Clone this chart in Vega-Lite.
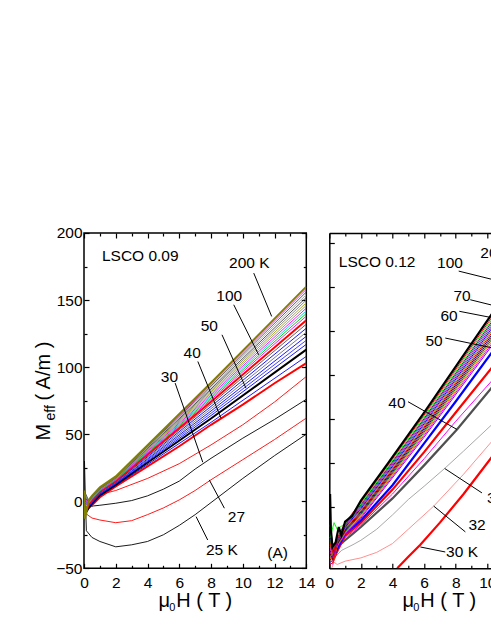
{
"$schema": "https://vega.github.io/schema/vega-lite/v6.json",
"background": "white",
"padding": {"left": 32, "top": 225, "right": 0, "bottom": 0},
"bounds": "flush",
"spacing": 22.3,
"resolve": {"scale": {"color": "independent"}},
"config": {
  "font": "Liberation Sans",
  "view": {"stroke": null},
  "axis": {"grid": false, "domain": false, "tickColor": "black", "tickWidth": 1.2, "labelFont": "Liberation Sans", "labelFontSize": 15.5, "labelColor": "black", "titleFont": "Liberation Sans", "titleFontSize": 20, "titleFontWeight": "normal", "titleColor": "black", "labelFlush": false, "labelOverlap": false, "domainColor": "black", "domainWidth": 1.5}
},
"datasets": {
  "dummy": [{"x": 0, "y": 0}],
  "left": [
    {"s":"a25","x":0.03,"y":30},{"s":"a25","x":0.08,"y":5},{"s":"a25","x":0.15,"y":-22},{"s":"a25","x":0.5,"y":-27},{"s":"a25","x":1,"y":-30},{"s":"a25","x":2,"y":-34},{"s":"a25","x":3,"y":-32.5},{"s":"a25","x":4,"y":-30},{"s":"a25","x":5,"y":-25},{"s":"a25","x":6,"y":-18},{"s":"a25","x":7,"y":-10},{"s":"a25","x":8,"y":-1},{"s":"a25","x":10,"y":17},{"s":"a25","x":12,"y":34},{"s":"a25","x":14,"y":50},
    {"s":"a27","x":0.05,"y":-5},{"s":"a27","x":0.2,"y":-10},{"s":"a27","x":0.5,"y":-12.5},{"s":"a27","x":1,"y":-14},{"s":"a27","x":2,"y":-16},{"s":"a27","x":3,"y":-14.5},{"s":"a27","x":4,"y":-10},{"s":"a27","x":5,"y":-5},{"s":"a27","x":6,"y":1},{"s":"a27","x":7,"y":8},{"s":"a27","x":8,"y":16},{"s":"a27","x":10,"y":31},{"s":"a27","x":12,"y":46},{"s":"a27","x":14,"y":62},
    {"s":"a30","x":0.2,"y":-1},{"s":"a30","x":0.4,"y":-4},{"s":"a30","x":0.6,"y":-3.5},{"s":"a30","x":1,"y":-3},{"s":"a30","x":2,"y":-1.5},{"s":"a30","x":3,"y":0.5},{"s":"a30","x":4,"y":4},{"s":"a30","x":5,"y":9},{"s":"a30","x":6,"y":15},{"s":"a30","x":7,"y":24},{"s":"a30","x":8,"y":32},{"s":"a30","x":10,"y":47},{"s":"a30","x":12,"y":61},{"s":"a30","x":14,"y":76},
    {"s":"a35","x":0.05,"y":-2},{"s":"a35","x":0.3,"y":-3},{"s":"a35","x":0.5,"y":0},{"s":"a35","x":1,"y":5},{"s":"a35","x":2,"y":8},{"s":"a35","x":4,"y":17},{"s":"a35","x":6,"y":28},{"s":"a35","x":8,"y":42},{"s":"a35","x":10,"y":57},{"s":"a35","x":12,"y":74},{"s":"a35","x":14,"y":93},
    {"s":"a40","x":0.05,"y":-6},{"s":"a40","x":0.3,"y":-5},{"s":"a40","x":0.5,"y":-3},{"s":"a40","x":1,"y":3},{"s":"a40","x":2,"y":11},{"s":"a40","x":4,"y":26},{"s":"a40","x":6,"y":41},{"s":"a40","x":8,"y":57},{"s":"a40","x":10,"y":72},{"s":"a40","x":12,"y":88},{"s":"a40","x":14,"y":103},
    {"s":"a108","x":0.05,"y":-8},{"s":"a108","x":0.3,"y":-5.4},{"s":"a108","x":0.5,"y":-2.4},{"s":"a108","x":1,"y":3.9},{"s":"a108","x":2,"y":11.7},{"s":"a108","x":8,"y":58.8},{"s":"a108","x":14,"y":108},
    {"s":"a50","x":0.05,"y":-10},{"s":"a50","x":0.3,"y":-4.8},{"s":"a50","x":0.5,"y":-1.8},{"s":"a50","x":1,"y":4.5},{"s":"a50","x":2,"y":12.3},{"s":"a50","x":8,"y":61.7},{"s":"a50","x":14,"y":113},
    {"s":"a117","x":0.05,"y":-6},{"s":"a117","x":0.3,"y":-4.3},{"s":"a117","x":0.5,"y":-1.3},{"s":"a117","x":1,"y":5.0},{"s":"a117","x":2,"y":12.8},{"s":"a117","x":8,"y":63.9},{"s":"a117","x":14,"y":117},
    {"s":"a120","x":0.05,"y":-4},{"s":"a120","x":0.3,"y":-3.9},{"s":"a120","x":0.5,"y":-0.9},{"s":"a120","x":1,"y":5.4},{"s":"a120","x":2,"y":13.2},{"s":"a120","x":8,"y":65.6},{"s":"a120","x":14,"y":120},
    {"s":"a123","x":0.05,"y":-9},{"s":"a123","x":0.3,"y":-3.5},{"s":"a123","x":0.5,"y":-0.5},{"s":"a123","x":1,"y":5.8},{"s":"a123","x":2,"y":13.6},{"s":"a123","x":8,"y":67.3},{"s":"a123","x":14,"y":123},
    {"s":"a126","x":0.05,"y":-2},{"s":"a126","x":0.3,"y":-3.2},{"s":"a126","x":0.5,"y":-0.2},{"s":"a126","x":1,"y":6.2},{"s":"a126","x":2,"y":14.0},{"s":"a126","x":8,"y":69.0},{"s":"a126","x":14,"y":126},
    {"s":"a129","x":0.05,"y":0},{"s":"a129","x":0.3,"y":-2.8},{"s":"a129","x":0.5,"y":0.2},{"s":"a129","x":1,"y":6.6},{"s":"a129","x":2,"y":14.4},{"s":"a129","x":8,"y":70.7},{"s":"a129","x":14,"y":129},
    {"s":"a132","x":0.05,"y":-5},{"s":"a132","x":0.3,"y":-2.4},{"s":"a132","x":0.5,"y":0.6},{"s":"a132","x":1,"y":7.0},{"s":"a132","x":2,"y":14.8},{"s":"a132","x":8,"y":72.4},{"s":"a132","x":14,"y":132},
    {"s":"a100","x":0.05,"y":-11},{"s":"a100","x":0.3,"y":-2.1},{"s":"a100","x":0.5,"y":0.9},{"s":"a100","x":1,"y":7.3},{"s":"a100","x":2,"y":15.2},{"s":"a100","x":8,"y":74.1},{"s":"a100","x":14,"y":135},
    {"s":"a138","x":0.05,"y":3},{"s":"a138","x":0.3,"y":-1.7},{"s":"a138","x":0.5,"y":1.3},{"s":"a138","x":1,"y":7.7},{"s":"a138","x":2,"y":15.6},{"s":"a138","x":8,"y":75.8},{"s":"a138","x":14,"y":138},
    {"s":"a140","x":0.05,"y":5},{"s":"a140","x":0.3,"y":-1.5},{"s":"a140","x":0.5,"y":1.5},{"s":"a140","x":1,"y":8.0},{"s":"a140","x":2,"y":15.9},{"s":"a140","x":8,"y":77.0},{"s":"a140","x":14,"y":140},
    {"s":"a142","x":0.05,"y":-3},{"s":"a142","x":0.3,"y":-1.2},{"s":"a142","x":0.5,"y":1.8},{"s":"a142","x":1,"y":8.2},{"s":"a142","x":2,"y":16.1},{"s":"a142","x":8,"y":78.1},{"s":"a142","x":14,"y":142},
    {"s":"a144","x":0.05,"y":1},{"s":"a144","x":0.3,"y":-1.0},{"s":"a144","x":0.5,"y":2.0},{"s":"a144","x":1,"y":8.5},{"s":"a144","x":2,"y":16.4},{"s":"a144","x":8,"y":79.2},{"s":"a144","x":14,"y":144},
    {"s":"a146","x":0.05,"y":6},{"s":"a146","x":0.3,"y":-0.7},{"s":"a146","x":0.5,"y":2.3},{"s":"a146","x":1,"y":8.8},{"s":"a146","x":2,"y":16.7},{"s":"a146","x":8,"y":80.4},{"s":"a146","x":14,"y":146},
    {"s":"a148","x":0.05,"y":-7},{"s":"a148","x":0.3,"y":-0.5},{"s":"a148","x":0.5,"y":2.5},{"s":"a148","x":1,"y":9.0},{"s":"a148","x":2,"y":16.9},{"s":"a148","x":8,"y":81.5},{"s":"a148","x":14,"y":148},
    {"s":"a150","x":0.05,"y":4},{"s":"a150","x":0.3,"y":-0.2},{"s":"a150","x":0.5,"y":2.8},{"s":"a150","x":1,"y":9.3},{"s":"a150","x":2,"y":17.2},{"s":"a150","x":8,"y":82.6},{"s":"a150","x":14,"y":150},
    {"s":"a152","x":0.05,"y":2},{"s":"a152","x":0.3,"y":0.0},{"s":"a152","x":0.5,"y":3.0},{"s":"a152","x":1,"y":9.5},{"s":"a152","x":2,"y":17.4},{"s":"a152","x":8,"y":83.7},{"s":"a152","x":14,"y":152},
    {"s":"a154","x":0.05,"y":-1},{"s":"a154","x":0.3,"y":0.3},{"s":"a154","x":0.5,"y":3.3},{"s":"a154","x":1,"y":9.8},{"s":"a154","x":2,"y":17.7},{"s":"a154","x":8,"y":84.9},{"s":"a154","x":14,"y":154},
    {"s":"a156","x":0.05,"y":7},{"s":"a156","x":0.3,"y":0.5},{"s":"a156","x":0.5,"y":3.5},{"s":"a156","x":1,"y":10.0},{"s":"a156","x":2,"y":18.0},{"s":"a156","x":8,"y":86.0},{"s":"a156","x":14,"y":156},
    {"s":"a158","x":0.05,"y":-4},{"s":"a158","x":0.3,"y":0.8},{"s":"a158","x":0.5,"y":3.8},{"s":"a158","x":1,"y":10.3},{"s":"a158","x":2,"y":18.2},{"s":"a158","x":8,"y":87.1},{"s":"a158","x":14,"y":158},
    {"s":"a200","x":0.03,"y":8},{"s":"a200","x":0.06,"y":-13},{"s":"a200","x":0.3,"y":1.0},{"s":"a200","x":0.5,"y":4.0},{"s":"a200","x":1,"y":10.5},{"s":"a200","x":2,"y":18.5},{"s":"a200","x":8,"y":88.3},{"s":"a200","x":14,"y":160}
  ],
  "right": [
    {"s":"b30","x":4.3,"y":-7.7},{"s":"b30","x":5,"y":-2.5},{"s":"b30","x":5.76,"y":3},{"s":"b30","x":7,"y":13},{"s":"b30","x":8.5,"y":26},{"s":"b30","x":10.36,"y":43.5},
    {"s":"b32","x":0.15,"y":-7.7},{"s":"b32","x":0.3,"y":-5},{"s":"b32","x":0.5,"y":-6},{"s":"b32","x":1,"y":-4.5},{"s":"b32","x":2,"y":-3},{"s":"b32","x":3,"y":-0.5},{"s":"b32","x":4,"y":3.5},{"s":"b32","x":5,"y":10},{"s":"b32","x":6.61,"y":20.5},{"s":"b32","x":8.5,"y":35},{"s":"b32","x":10.36,"y":50.5},
    {"s":"b35","x":0.3,"y":-3},{"s":"b35","x":0.8,"y":0.5},{"s":"b35","x":1.5,"y":3},{"s":"b35","x":2,"y":5},{"s":"b35","x":3,"y":10},{"s":"b35","x":4,"y":16.5},{"s":"b35","x":5,"y":23.5},{"s":"b35","x":6,"y":29.5},{"s":"b35","x":7.3,"y":37.6},{"s":"b35","x":8.5,"y":45.5},{"s":"b35","x":10.36,"y":58},
    {"s":"b40","x":0.2,"y":-4},{"s":"b40","x":0.5,"y":2},{"s":"b40","x":1,"y":5},{"s":"b40","x":1.5,"y":8},{"s":"b40","x":2,"y":11},{"s":"b40","x":4,"y":24},{"s":"b40","x":6,"y":39},{"s":"b40","x":8.08,"y":55.3},{"s":"b40","x":10.36,"y":75},
    {"s":"b78","x":0.2,"y":-6},{"s":"b78","x":0.5,"y":1},{"s":"b78","x":1,"y":6},{"s":"b78","x":2,"y":12},{"s":"b78","x":4,"y":26},{"s":"b78","x":6,"y":42},{"s":"b78","x":8,"y":59},{"s":"b78","x":10.36,"y":78},
    {"s":"b84","x":0.2,"y":-5},{"s":"b84","x":0.5,"y":0},{"s":"b84","x":1,"y":7},{"s":"b84","x":2,"y":13},{"s":"b84","x":4,"y":28},{"s":"b84","x":6,"y":45},{"s":"b84","x":8,"y":63},{"s":"b84","x":10.36,"y":84},
    {"s":"b91","x":0.2,"y":-3},{"s":"b91","x":0.5,"y":1},{"s":"b91","x":1,"y":8},{"s":"b91","x":2,"y":14},{"s":"b91","x":4,"y":30},{"s":"b91","x":6,"y":49},{"s":"b91","x":8,"y":68},{"s":"b91","x":10.36,"y":91},
    {"s":"b94","x":0.05,"y":-5},{"s":"b94","x":0.25,"y":-4},{"s":"b94","x":0.5,"y":2},{"s":"b94","x":1,"y":7.5},{"s":"b94","x":2,"y":15.0},{"s":"b94","x":6,"y":51.8},{"s":"b94","x":10.36,"y":94},
    {"s":"b95","x":0.05,"y":2},{"s":"b95","x":0.25,"y":-3},{"s":"b95","x":0.5,"y":2.3},{"s":"b95","x":1,"y":7.95},{"s":"b95","x":2,"y":15.6},{"s":"b95","x":6,"y":52.6},{"s":"b95","x":10.36,"y":95},
    {"s":"b96","x":0.05,"y":-3},{"s":"b96","x":0.25,"y":-5},{"s":"b96","x":0.5,"y":2.6},{"s":"b96","x":1,"y":8.35},{"s":"b96","x":2,"y":16.1},{"s":"b96","x":6,"y":53.3},{"s":"b96","x":10.36,"y":96},
    {"s":"b97","x":0.05,"y":5},{"s":"b97","x":0.25,"y":-2},{"s":"b97","x":0.5,"y":2.9},{"s":"b97","x":1,"y":8.8},{"s":"b97","x":2,"y":16.7},{"s":"b97","x":6,"y":54.1},{"s":"b97","x":10.36,"y":97},
    {"s":"b98","x":0.05,"y":-1},{"s":"b98","x":0.25,"y":-4},{"s":"b98","x":0.5,"y":3.2},{"s":"b98","x":1,"y":9.2},{"s":"b98","x":2,"y":17.2},{"s":"b98","x":6,"y":54.9},{"s":"b98","x":10.36,"y":98},
    {"s":"b99","x":0.05,"y":8},{"s":"b99","x":0.25,"y":-1},{"s":"b99","x":0.5,"y":3.5},{"s":"b99","x":1,"y":9.65},{"s":"b99","x":2,"y":17.8},{"s":"b99","x":6,"y":55.7},{"s":"b99","x":10.36,"y":99},
    {"s":"b100","x":0.05,"y":-6},{"s":"b100","x":0.25,"y":-5},{"s":"b100","x":0.5,"y":3.8},{"s":"b100","x":1,"y":10.05},{"s":"b100","x":2,"y":18.3},{"s":"b100","x":6,"y":56.4},{"s":"b100","x":10.36,"y":100},
    {"s":"b101","x":0.05,"y":3},{"s":"b101","x":0.25,"y":-2},{"s":"b101","x":0.5,"y":4.1},{"s":"b101","x":1,"y":10.5},{"s":"b101","x":2,"y":18.9},{"s":"b101","x":6,"y":57.2},{"s":"b101","x":10.36,"y":101},
    {"s":"b102","x":0.05,"y":10},{"s":"b102","x":0.25,"y":0},{"s":"b102","x":0.5,"y":4.4},{"s":"b102","x":1,"y":10.9},{"s":"b102","x":2,"y":19.4},{"s":"b102","x":6,"y":57.9},{"s":"b102","x":10.36,"y":102},
    {"s":"b103","x":0.05,"y":0},{"s":"b103","x":0.25,"y":-3},{"s":"b103","x":0.5,"y":4.7},{"s":"b103","x":1,"y":11.35},{"s":"b103","x":2,"y":20.0},{"s":"b103","x":6,"y":58.7},{"s":"b103","x":10.36,"y":103},
    {"s":"b104","x":0.05,"y":12},{"s":"b104","x":0.25,"y":1},{"s":"b104","x":0.5,"y":5.0},{"s":"b104","x":1,"y":11.75},{"s":"b104","x":2,"y":20.5},{"s":"b104","x":6,"y":59.5},{"s":"b104","x":10.36,"y":104},
    {"s":"b105","x":0.05,"y":-4},{"s":"b105","x":0.25,"y":-2},{"s":"b105","x":0.5,"y":5.3},{"s":"b105","x":1,"y":12.2},{"s":"b105","x":2,"y":21.1},{"s":"b105","x":6,"y":60.2},{"s":"b105","x":10.36,"y":105},
    {"s":"b106","x":0.05,"y":6},{"s":"b106","x":0.3,"y":13},{"s":"b106","x":0.5,"y":10},{"s":"b106","x":1,"y":12.6},{"s":"b106","x":2,"y":21.6},{"s":"b106","x":6,"y":61.0},{"s":"b106","x":10.36,"y":106},
    {"s":"b107","x":0.05,"y":4},{"s":"b107","x":0.25,"y":-1},{"s":"b107","x":0.5,"y":5.9},{"s":"b107","x":1,"y":13.05},{"s":"b107","x":2,"y":22.2},{"s":"b107","x":6,"y":61.8},{"s":"b107","x":10.36,"y":107},
    {"s":"b108","x":0.05,"y":26},{"s":"b108","x":0.1,"y":10},{"s":"b108","x":0.2,"y":2},{"s":"b108","x":0.4,"y":4},{"s":"b108","x":0.6,"y":11},{"s":"b108","x":0.76,"y":7.3},{"s":"b108","x":1,"y":13.5},{"s":"b108","x":1.44,"y":16},{"s":"b108","x":2,"y":23},{"s":"b108","x":3.72,"y":40},{"s":"b108","x":6,"y":62.9},{"s":"b108","x":10.36,"y":108.5}
  ],
  "leftLeaders": [
    {"x":10.69,"y":170.1,"x2":11.82,"y2":137.8},
    {"x":9.43,"y":146.5,"x2":11.0,"y2":109.2},
    {"x":8.69,"y":124.1,"x2":10.2,"y2":84.3},
    {"x":7.17,"y":104.2,"x2":8.63,"y2":61.9},
    {"x":5.74,"y":88.1,"x2":7.48,"y2":29.1},
    {"x":7.89,"y":15.9,"x2":8.84,"y2":-5.2},
    {"x":7.06,"y":-11.5,"x2":7.79,"y2":-28.9}
  ],
  "rightLeaders": [
    {"x":8.19,"y":127.2,"x2":11.56,"y2":121.2},
    {"x":8.92,"y":114.2,"x2":11.56,"y2":109.5},
    {"x":8.23,"y":108.95,"x2":10.19,"y2":106.2},
    {"x":7.34,"y":96.8,"x2":11.56,"y2":90.5},
    {"x":4.98,"y":67.9,"x2":8.08,"y2":55.3},
    {"x":7.3,"y":37.6,"x2":9.66,"y2":26.5},
    {"x":6.61,"y":20.5,"x2":8.61,"y2":8.8},
    {"x":5.76,"y":1.95,"x2":7.34,"y2":-0.32}
  ],
  "leftLabels": [
    {"t":"200 K","x":10.41,"y":177.6},
    {"t":"100","x":9.15,"y":153.2},
    {"t":"50","x":7.89,"y":130.8},
    {"t":"40","x":6.81,"y":110.4},
    {"t":"30","x":5.38,"y":93},
    {"t":"27","x":9.6,"y":-11.5},
    {"t":"25 K","x":8.68,"y":-36.3},
    {"t":"(A)","x":12.19,"y":-38.8}
  ],
  "leftTitle": [{"t":"LSCO 0.09","x":1.13,"y":182.5}],
  "rightLabels": [
    {"t":"100","x":7.64,"y":130.9},
    {"t":"70","x":8.4,"y":115.9},
    {"t":"60","x":7.58,"y":106.8},
    {"t":"50","x":6.63,"y":95.5},
    {"t":"40","x":4.28,"y":67.4},
    {"t":"32","x":9.35,"y":11.8},
    {"t":"30 K","x":8.4,"y":-0.46}
  ],
  "rightLeft": [
    {"t":"LSCO 0.12","x":0.6,"y":131.5},
    {"t":"200 K","x":9.56,"y":135.5},
    {"t":"35","x":9.98,"y":24.1}
  ]
},
"hconcat": [
  {
    "width": 222.3, "height": 335.3,
    "view": {"stroke": "black", "strokeWidth": 1.5},
    "resolve": {"axis": {"x": "independent", "y": "independent"}},
    "layer": [
      {
        "data": {"name": "left"},
        "mark": {"type": "line", "clip": true},
        "encoding": {
          "x": {"field": "x", "type": "quantitative", "scale": {"domain": [0, 14], "nice": false, "zero": false},
                "axis": {"orient": "bottom", "values": [0,2,4,6,8,10,12,14], "tickSize": -5, "labelPadding": 12, "title": "μ", "titleX": 74, "titleY": 38.4, "titleAlign": "left", "titleBaseline": "alphabetic"}},
          "y": {"field": "y", "type": "quantitative", "scale": {"domain": [-50, 200], "nice": false, "zero": false},
                "axis": {"orient": "left", "values": [-50,0,50,100,150,200], "tickSize": -5, "labelPadding": 7, "title": "M", "titleAngle": 270, "titleX": -34.7, "titleY": 207, "titleAlign": "left", "titleBaseline": "alphabetic"}},
          "color": {"field": "s", "type": "nominal", "legend": null,
                    "scale": {"domain": ["a25","a27","a30","a35","a40","a108","a50","a117","a120","a123","a126","a129","a132","a100","a138","a140","a142","a144","a146","a148","a150","a152","a154","a156","a158","a200"],
                              "range": ["#000000","#ff0000","#000000","#ff0000","#ff0000","#0000ff","#000000","#0000ff","#3030ff","#0000ff","#707070","#0000ff","#505050","#ff0000","#ff00ff","#00c000","#00d0d0","#ff00ff","#909090","#a0a000","#808080","#404040","#a0a0a0","#505050","#ff00ff","#808000"]}},
          "strokeWidth": {"condition": {"test": "indexof(['a40','a50','a100','a200'], datum.s) >= 0", "value": 2}, "value": 0.9}
        }
      },
      {
        "data": {"name": "dummy"},
        "mark": {"type": "point", "opacity": 0},
        "encoding": {
          "x": {"field": "x", "type": "quantitative", "scale": {"domain": [0, 14], "nice": false, "zero": false},
                "axis": {"orient": "bottom", "values": [1,3,5,7,9,11,13], "tickSize": -3, "labels": false, "title": "0", "titleFontSize": 11, "titleX": 84.8, "titleY": 42.7, "titleAlign": "left", "titleBaseline": "alphabetic"}},
          "y": {"field": "y", "type": "quantitative", "scale": {"domain": [-50, 200], "nice": false, "zero": false},
                "axis": {"orient": "left", "values": [-25,25,75,125,175], "tickSize": -3, "labels": false, "title": "eff", "titleFontSize": 14, "titleAngle": 270, "titleX": -29.7, "titleY": 187, "titleAlign": "left", "titleBaseline": "alphabetic"}}
        }
      },
      {
        "data": {"name": "dummy"},
        "mark": {"type": "point", "opacity": 0},
        "encoding": {
          "x": {"field": "x", "type": "quantitative", "scale": {"domain": [0, 14], "nice": false, "zero": false},
                "axis": {"orient": "top", "values": [0,2,4,6,8,10,12,14], "tickSize": -5, "labels": false, "title": null}},
          "y": {"field": "y", "type": "quantitative", "scale": {"domain": [-50, 200], "nice": false, "zero": false},
                "axis": {"orient": "right", "values": [-50,0,50,100,150,200], "tickSize": -5, "labels": false, "title": null}}
        }
      },
      {
        "data": {"name": "dummy"},
        "mark": {"type": "point", "opacity": 0},
        "encoding": {
          "x": {"field": "x", "type": "quantitative", "scale": {"domain": [0, 14], "nice": false, "zero": false},
                "axis": {"orient": "top", "values": [1,3,5,7,9,11,13], "tickSize": -3, "labels": false, "title": null}},
          "y": {"field": "y", "type": "quantitative", "scale": {"domain": [-50, 200], "nice": false, "zero": false},
                "axis": {"orient": "right", "values": [-25,25,75,125,175], "tickSize": -3, "labels": false, "title": null}}
        }
      },
      {
        "data": {"name": "dummy"},
        "mark": {"type": "point", "opacity": 0},
        "encoding": {
          "x": {"field": "x", "type": "quantitative", "scale": {"domain": [0, 14], "nice": false, "zero": false},
                "axis": {"orient": "bottom", "ticks": false, "labels": false, "title": "H ( T )", "titleX": 91.8, "titleY": 38.4, "titleAlign": "left", "titleBaseline": "alphabetic"}},
          "y": {"field": "y", "type": "quantitative", "scale": {"domain": [-50, 200], "nice": false, "zero": false},
                "axis": {"orient": "left", "ticks": false, "labels": false, "title": "( A/m )", "titleAngle": 270, "titleX": -34.7, "titleY": 167, "titleAlign": "left", "titleBaseline": "alphabetic"}}
        }
      },
      {
        "data": {"name": "leftLeaders"},
        "mark": {"type": "rule", "color": "black", "strokeWidth": 1, "clip": true},
        "encoding": {
          "x": {"field": "x", "type": "quantitative", "axis": null, "scale": {"domain": [0, 14], "nice": false, "zero": false}},
          "y": {"field": "y", "type": "quantitative", "axis": null, "scale": {"domain": [-50, 200], "nice": false, "zero": false}},
          "x2": {"field": "x2"}, "y2": {"field": "y2"}
        }
      },
      {
        "data": {"name": "leftLabels"},
        "mark": {"type": "text", "font": "Liberation Sans", "fontSize": 15.5, "color": "black", "align": "center", "baseline": "middle"},
        "encoding": {
          "x": {"field": "x", "type": "quantitative", "axis": null, "scale": {"domain": [0, 14], "nice": false, "zero": false}},
          "y": {"field": "y", "type": "quantitative", "axis": null, "scale": {"domain": [-50, 200], "nice": false, "zero": false}},
          "text": {"field": "t", "type": "nominal"}
        }
      },
      {
        "data": {"name": "leftTitle"},
        "mark": {"type": "text", "font": "Liberation Sans", "fontSize": 15.5, "color": "black", "align": "left", "baseline": "middle"},
        "encoding": {
          "x": {"field": "x", "type": "quantitative", "axis": null, "scale": {"domain": [0, 14], "nice": false, "zero": false}},
          "y": {"field": "y", "type": "quantitative", "axis": null, "scale": {"domain": [-50, 200], "nice": false, "zero": false}},
          "text": {"field": "t", "type": "nominal"}
        }
      }
    ]
  },
  {
    "width": 163.7, "height": 335.3,
    "resolve": {"axis": {"x": "independent", "y": "independent"}},
    "layer": [
      {
        "data": {"name": "right"},
        "mark": {"type": "line", "clip": true},
        "encoding": {
          "x": {"field": "x", "type": "quantitative", "scale": {"domain": [0, 10.36], "nice": false, "zero": false},
                "axis": {"orient": "bottom", "domain": true, "values": [0,2,4,6,8,10], "tickSize": -5, "labelPadding": 12, "title": "μ", "titleX": 72.7, "titleY": 38.4, "titleAlign": "left", "titleBaseline": "alphabetic"}},
          "y": {"field": "y", "type": "quantitative", "scale": {"domain": [-7.73, 144.5], "nice": false, "zero": false},
                "axis": {"orient": "left", "domain": true, "values": [0,20,40,60,80,100,120,140], "tickSize": -5, "labels": false, "title": null}},
          "color": {"field": "s", "type": "nominal", "legend": null,
                    "scale": {"domain": ["b30","b32","b35","b40","b78","b84","b91","b94","b95","b96","b97","b98","b99","b100","b101","b102","b103","b104","b105","b106","b107","b108"],
                              "range": ["#ff0000","#ff9090","#a8a8a8","#505050","#ff00ff","#ff0000","#0000ff","#8000ff","#ff00ff","#ff8000","#008000","#800000","#000080","#ff0000","#808000","#0000ff","#c000c0","#008080","#800080","#00ff00","#ff0000","#000000"]}},
          "strokeWidth": {"condition": {"test": "indexof(['b30','b40','b84','b91','b108'], datum.s) >= 0", "value": 2.2}, "value": 1}
        }
      },
      {
        "data": {"name": "dummy"},
        "mark": {"type": "point", "opacity": 0},
        "encoding": {
          "x": {"field": "x", "type": "quantitative", "scale": {"domain": [0, 10.36], "nice": false, "zero": false},
                "axis": {"orient": "bottom", "values": [1,3,5,7,9], "tickSize": -3, "labels": false, "title": "0", "titleFontSize": 11, "titleX": 83.5, "titleY": 42.7, "titleAlign": "left", "titleBaseline": "alphabetic"}},
          "y": {"field": "y", "type": "quantitative", "axis": null, "scale": {"domain": [-7.73, 144.5], "nice": false, "zero": false}}
        }
      },
      {
        "data": {"name": "dummy"},
        "mark": {"type": "point", "opacity": 0},
        "encoding": {
          "x": {"field": "x", "type": "quantitative", "scale": {"domain": [0, 10.36], "nice": false, "zero": false},
                "axis": {"orient": "top", "domain": true, "values": [0,2,4,6,8,10], "tickSize": -5, "labels": false, "title": null}},
          "y": {"field": "y", "type": "quantitative", "axis": null, "scale": {"domain": [-7.73, 144.5], "nice": false, "zero": false}}
        }
      },
      {
        "data": {"name": "dummy"},
        "mark": {"type": "point", "opacity": 0},
        "encoding": {
          "x": {"field": "x", "type": "quantitative", "scale": {"domain": [0, 10.36], "nice": false, "zero": false},
                "axis": {"orient": "top", "values": [1,3,5,7,9], "tickSize": -3, "labels": false, "title": null}},
          "y": {"field": "y", "type": "quantitative", "axis": null, "scale": {"domain": [-7.73, 144.5], "nice": false, "zero": false}}
        }
      },
      {
        "data": {"name": "dummy"},
        "mark": {"type": "point", "opacity": 0},
        "encoding": {
          "x": {"field": "x", "type": "quantitative", "scale": {"domain": [0, 10.36], "nice": false, "zero": false},
                "axis": {"orient": "bottom", "ticks": false, "labels": false, "title": "H ( T )", "titleX": 90.5, "titleY": 38.4, "titleAlign": "left", "titleBaseline": "alphabetic"}},
          "y": {"field": "y", "type": "quantitative", "axis": null, "scale": {"domain": [-7.73, 144.5], "nice": false, "zero": false}}
        }
      },
      {
        "data": {"name": "rightLeaders"},
        "mark": {"type": "rule", "color": "black", "strokeWidth": 1, "clip": true},
        "encoding": {
          "x": {"field": "x", "type": "quantitative", "axis": null, "scale": {"domain": [0, 10.36], "nice": false, "zero": false}},
          "y": {"field": "y", "type": "quantitative", "axis": null, "scale": {"domain": [-7.73, 144.5], "nice": false, "zero": false}},
          "x2": {"field": "x2"}, "y2": {"field": "y2"}
        }
      },
      {
        "data": {"name": "rightLabels"},
        "mark": {"type": "text", "font": "Liberation Sans", "fontSize": 15.5, "color": "black", "align": "center", "baseline": "middle", "clip": true},
        "encoding": {
          "x": {"field": "x", "type": "quantitative", "axis": null, "scale": {"domain": [0, 10.36], "nice": false, "zero": false}},
          "y": {"field": "y", "type": "quantitative", "axis": null, "scale": {"domain": [-7.73, 144.5], "nice": false, "zero": false}},
          "text": {"field": "t", "type": "nominal"}
        }
      },
      {
        "data": {"name": "rightLeft"},
        "mark": {"type": "text", "font": "Liberation Sans", "fontSize": 15.5, "color": "black", "align": "left", "baseline": "middle", "clip": true},
        "encoding": {
          "x": {"field": "x", "type": "quantitative", "axis": null, "scale": {"domain": [0, 10.36], "nice": false, "zero": false}},
          "y": {"field": "y", "type": "quantitative", "axis": null, "scale": {"domain": [-7.73, 144.5], "nice": false, "zero": false}},
          "text": {"field": "t", "type": "nominal"}
        }
      }
    ]
  }
]
}
